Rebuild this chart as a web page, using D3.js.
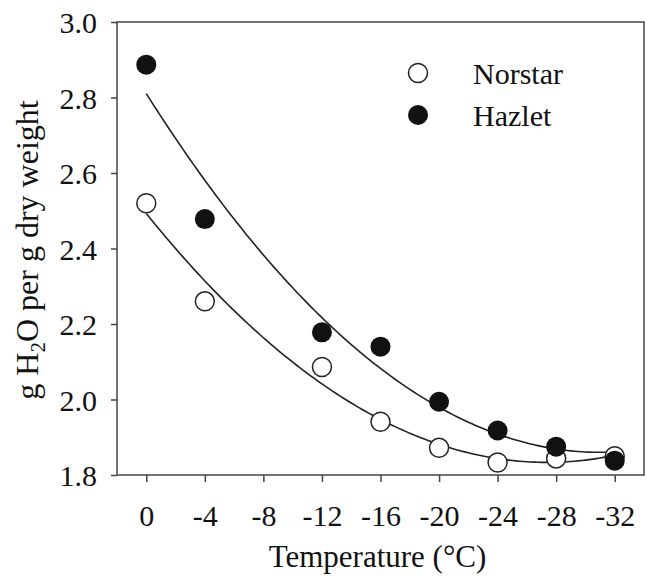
<!DOCTYPE html>
<html>
<head>
<meta charset="utf-8">
<script src="https://cdn.jsdelivr.net/npm/d3@7"></script>
<style>
  body { margin: 0; background: #fff; }
  svg text { font-family: "Liberation Serif", "Times New Roman", serif; fill: #111; }
</style>
</head>
<body>
<svg width="647" height="580"></svg>
<script>
// values
var temps = [0, -4, -12, -16, -20, -24, -28, -32];
var norstar = [2.52, 2.26, 2.086, 1.941, 1.872, 1.833, 1.844, 1.85];
var hazlet = [2.887, 2.478, 2.178, 2.14, 1.994, 1.918, 1.875, 1.838];
var xTicks = [0, -4, -8, -12, -16, -20, -24, -28, -32];
var yTicks = [1.8, 2.0, 2.2, 2.4, 2.6, 2.8, 3.0];
var seriesNames = ["Norstar", "Hazlet"];

var svg = d3.select("svg"),
    pLeft = 117, pRight = 644, pTop = 22, pBottom = 475;

var x = d3.scaleLinear().domain([2, -34]).range([pLeft, pRight]);
var y = d3.scaleLinear().domain([1.8, 3.0]).range([pBottom, pTop]);

// quadratic least squares fit (the smooth lines)
function quadFit(xs, ys) {
	var s = [0, 0, 0, 0, 0], t = [0, 0, 0], i, k;
	for (i = 0; i < xs.length; i++) {
		for (k = 0; k < 5; k++) s[k] += Math.pow(xs[i], k);
		for (k = 0; k < 3; k++) t[k] += ys[i] * Math.pow(xs[i], k);
	}
	var m = [[s[0], s[1], s[2], t[0]], [s[1], s[2], s[3], t[1]], [s[2], s[3], s[4], t[2]]];
	for (i = 0; i < 3; i++) {
		for (var r = i + 1; r < 3; r++) {
			var f = m[r][i] / m[i][i];
			for (k = i; k < 4; k++) m[r][k] -= f * m[i][k];
		}
	}
	var c = [0, 0, 0];
	for (i = 2; i >= 0; i--) {
		var v = m[i][3];
		for (k = i + 1; k < 3; k++) v -= m[i][k] * c[k];
		c[i] = v / m[i][i];
	}
	return function(t) { return c[0] + c[1] * t + c[2] * t * t; };
}

// frame
svg.append("rect")
	.attr("x", pLeft).attr("y", pTop)
	.attr("width", pRight - pLeft).attr("height", pBottom - pTop)
	.attr("fill", "none").attr("stroke", "#444").attr("stroke-width", 1.5);

var xAxis = svg.append("g")
	.attr("transform", "translate(0," + pBottom + ")")
	.call(d3.axisBottom(x).tickValues(xTicks).tickSize(7).tickFormat(function(d) { return String(d); }));
var yAxis = svg.append("g")
	.attr("transform", "translate(" + pLeft + ",0)")
	.call(d3.axisLeft(y).tickValues(yTicks).tickSize(6).tickPadding(14).tickFormat(d3.format(".1f")));

[xAxis, yAxis].forEach(function(a) {
	a.select(".domain").remove();
	a.selectAll(".tick line").attr("stroke", "#444").attr("stroke-width", 1.5);
	a.selectAll(".tick text").attr("font-size", 30).attr("font-family", "Liberation Serif").attr("fill", "#111");
});
xAxis.selectAll(".tick text").attr("dy", "0.71em").attr("y", 30);
yAxis.selectAll(".tick text").attr("dy", "0.35em");

// fitted curves
var lineGen = d3.line()
	.x(function(d) { return x(d[0]); })
	.y(function(d) { return y(d[1]); });

[norstar, hazlet].forEach(function(vals) {
	var f = quadFit(temps, vals);
	var pts = d3.range(0, -32.01, -0.25).map(function(t) { return [t, f(t)]; });
	svg.append("path")
		.attr("d", lineGen(pts))
		.attr("fill", "none")
		.attr("stroke", "#222")
		.attr("stroke-width", 1.6);
});

// points
svg.append("g").selectAll("circle")
	.data(temps.map(function(t, i) { return [t, norstar[i]]; }))
	.enter().append("circle")
	.attr("cx", function(d) { return x(d[0]); })
	.attr("cy", function(d) { return y(d[1]); })
	.attr("r", 9.5)
	.attr("fill", "#fff")
	.attr("stroke", "#222")
	.attr("stroke-width", 1.5);

svg.append("g").selectAll("circle")
	.data(temps.map(function(t, i) { return [t, hazlet[i]]; }))
	.enter().append("circle")
	.attr("cx", function(d) { return x(d[0]); })
	.attr("cy", function(d) { return y(d[1]); })
	.attr("r", 10)
	.attr("fill", "#111");

// legend
var legend = svg.append("g");
seriesNames.forEach(function(name, i) {
	var ly = 73 + i * 42;
	legend.append("circle")
		.attr("cx", 418).attr("cy", ly).attr("r", i == 0 ? 9.5 : 10)
		.attr("fill", i == 0 ? "#fff" : "#111")
		.attr("stroke", i == 0 ? "#222" : "none")
		.attr("stroke-width", 1.5);
	legend.append("text")
		.attr("x", 473).attr("y", ly + 11)
		.attr("font-size", 30)
		.text(name);
});

// axis titles
svg.append("text")
	.attr("x", (pLeft + pRight) / 2 - 3).attr("y", 567)
	.attr("text-anchor", "middle")
	.attr("font-size", 31)
	.text("Temperature (°C)");

var yl = svg.append("text")
	.attr("transform", "translate(38,250) rotate(-90)")
	.attr("text-anchor", "middle")
	.attr("font-size", 32);
yl.append("tspan").text("g H");
yl.append("tspan").attr("font-size", 21).attr("dy", 7).text("2");
yl.append("tspan").attr("dy", -7).text("O per g dry weight");
</script>
</body>
</html>
